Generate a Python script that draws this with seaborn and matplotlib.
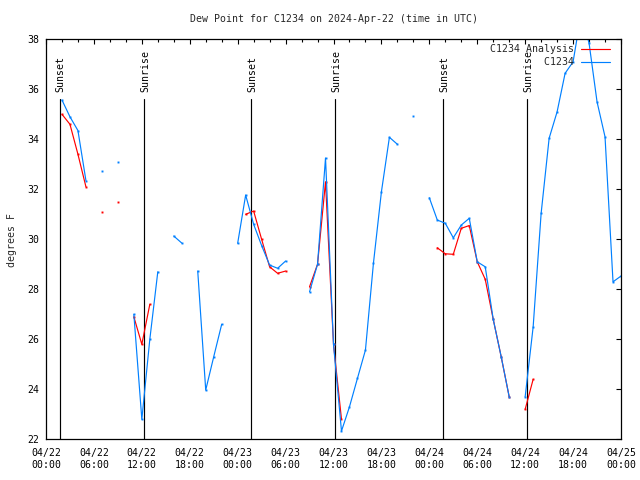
import numpy as np
import pandas as pd
import matplotlib
matplotlib.use("Agg")
import matplotlib.pyplot as plt
import matplotlib.dates as mdates
from matplotlib.ticker import MultipleLocator
import seaborn as sns

nan = np.nan

TITLE = "Dew Point for C1234 on 2024-Apr-22 (time in UTC)"
YLABEL = "degrees F"
START = pd.Timestamp("2024-04-22 00:00")
SPAN_HOURS = 72
series_names = ["C1234 Analysis", "C1234"]
series_colors = ["#ff0000", "#0080ff"]

# hours since 2024-04-22 00:00 UTC; NaN marks a gap
analysis_hours = [2, 3, 4, 5, 6, 7, 8, 9, 10, 11, 12, 13, 14,
                  25, 26, 27, 28, 29, 30, 31,
                  33, 34, 35, 36, 37, 38,
                  49, 50, 51, 52, 53, 54, 55, 56, 57, 58, 59,
                  60, 61]
analysis_vals = [35.0, 34.6, 33.4, 32.1, nan, 31.08, nan, 31.48, nan, 26.9, 25.8, 27.4, nan,
                 31.0, 31.13, 30.0, 28.9, 28.64, 28.73, nan,
                 28.1, 29.0, 32.3, 25.8, 22.8, nan,
                 29.66, 29.42, 29.4, 30.44, 30.55, 29.1, 28.4, 26.8, 25.3, 23.7, nan,
                 23.2, 24.4]

station_hours = [2, 3, 4, 5, 6, 7, 8, 9, 10,
                 11, 12, 13, 14, 15, 16, 17, 18,
                 19, 20, 21, 22, 23,
                 24, 25, 26, 27, 28, 29, 30, 31,
                 33, 34, 35, 36, 37, 38, 39, 40, 41, 42, 43, 44, 45,
                 46, 47,
                 48, 49, 50, 51, 52, 53, 54, 55, 56, 57, 58, 59,
                 60, 61, 62, 63, 64, 65, 66, 67, 68, 69, 70, 71, 72]
station_vals = [35.57, 34.9, 34.35, 32.35, nan, 32.73, nan, 33.09, nan,
                27.0, 22.8, 26.0, 28.7, nan, 30.13, 29.85, nan,
                28.73, 23.97, 25.3, 26.6, nan,
                29.84, 31.77, 30.6, 29.75, 28.97, 28.84, 29.13, nan,
                27.9, 29.0, 33.25, 25.8, 22.33, 23.3, 24.44, 25.57, 29.04, 31.9, 34.08, 33.8, nan,
                34.92, nan,
                31.66, 30.77, 30.64, 30.06, 30.57, 30.84, 29.1, 28.9, 26.8, 25.3, 23.7, nan,
                23.7, 26.5, 31.04, 34.04, 35.1, 36.64, 37.1, 39.0, 37.85, 35.5, 34.1, 28.3, 28.53]

sunset_hours = [1.7, 25.7, 49.7]
sunrise_hours = [12.3, 36.2, 60.2]
event_top = 35.6


def build(name, hours, vals):
    d = pd.DataFrame({"hour": hours, "value": vals})
    d["seg"] = d["value"].isna().cumsum()
    d = d.dropna()
    d["series"] = name
    d["time"] = START + pd.to_timedelta(d["hour"], unit="h")
    return d


df = pd.concat([build(series_names[0], analysis_hours, analysis_vals),
                build(series_names[1], station_hours, station_vals)],
               ignore_index=True)
df["unit"] = df["series"] + "_" + df["seg"].astype(str)

sns.set_style("white")
mono = "DejaVu Sans Mono"
plt.rcParams["font.family"] = [mono, "DejaVu Sans"]
FS = 7.1

fig = plt.figure(figsize=(6.4, 4.8), dpi=100)
ax = fig.add_axes([46 / 640, 1 - 439.3 / 480, 575 / 640, 400 / 480])

sns.lineplot(data=df, x="time", y="value", hue="series", hue_order=series_names,
             palette=dict(zip(series_names, series_colors)), units="unit",
             estimator=None, sort=True, lw=0.85, marker="s", markersize=1.4,
             markeredgewidth=0, ax=ax, legend=True)

# sunrise / sunset markers
for hrs, lab in ((sunset_hours, "Sunset"), (sunrise_hours, "Sunrise")):
    for h in hrs:
        t = START + pd.Timedelta(hours=h)
        ax.axvline(t, ymin=0, ymax=(event_top - 22) / 16, color="black", lw=0.85, zorder=1)
        ax.text(START + pd.Timedelta(hours=h + 0.15), event_top + 0.3, lab, rotation=90,
                ha="center", va="bottom", fontsize=FS, family=mono, color="black")

ax.set_xlim(START, START + pd.Timedelta(hours=SPAN_HOURS))
ax.set_ylim(22, 38)
ax.set_xlabel("")
ax.set_ylabel("")

ax.xaxis.set_major_locator(mdates.HourLocator(byhour=[0, 6, 12, 18]))
ax.xaxis.set_minor_locator(mdates.HourLocator(byhour=range(0, 24, 2)))
ax.xaxis.set_major_formatter(mdates.DateFormatter("%m/%d\n%H:%M"))
ax.yaxis.set_major_locator(MultipleLocator(2))
ax.tick_params(which="both", direction="in", top=True, right=True, color="black",
               labelsize=FS, labelcolor="black", width=0.8)
ax.tick_params(which="major", length=3.6)
ax.tick_params(which="minor", length=2.2)
ax.tick_params(axis="x", pad=6)
ax.tick_params(axis="y", pad=5)
for s in ax.spines.values():
    s.set_color("black")
    s.set_linewidth(0.9)

# legend (text right-aligned, line sample after the text)
old = ax.get_legend()
handles = old.legend_handles
for hd in handles:
    hd.set_marker("")
labels = [t.get_text() for t in old.get_texts()]
width = max(len(l) for l in labels)
labels = [l.rjust(width) for l in labels]
old.remove()
ax.legend(handles, labels, loc="upper right",
          bbox_to_anchor=((610 - 46) / 575, 1 - (44.5 - 39.3) / 400),
          frameon=False, markerfirst=False, handlelength=2.9, handletextpad=0.8,
          labelspacing=0.3, borderpad=0, borderaxespad=0,
          prop={"family": mono, "size": FS})

fig.text(333.5 / 640, 1 - 19 / 480, TITLE, ha="center", va="center",
         fontsize=FS, family=mono)
fig.text(12 / 640, 0.5, YLABEL, rotation=90, ha="center", va="center",
         fontsize=FS, family=mono)

fig.canvas.draw()
for lbl in ax.get_xticklabels():
    lbl.set_linespacing(1.25)

fig.savefig("out.png", dpi=100)
